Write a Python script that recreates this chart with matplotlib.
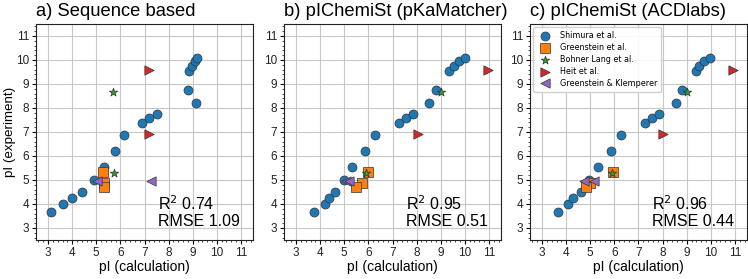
import numpy as np
import matplotlib
matplotlib.use("Agg")
import matplotlib.pyplot as plt
from matplotlib.ticker import MultipleLocator

plt.rcParams['font.family'] = ['Liberation Sans', 'DejaVu Sans']

# experimental pI values (same for every panel)
shimura_exp = [3.65, 4.0, 4.24, 4.51, 5.0, 5.54, 6.19, 6.88, 7.37, 7.57, 7.75,
               8.2, 8.75, 9.55, 9.74, 9.94, 10.1]
greenstein_exp = [5.32, 4.87, 4.7]
bohner_exp = [8.65, 5.3]
heit_exp = [9.6, 6.9]
gk_exp = [4.94, 4.94]

# calculated pI values per method
shimura_calc = {
    'a': [3.14, 3.62, 4.0, 4.4, 4.9, 5.34, 5.79, 6.16, 6.9, 7.2, 7.5,
          9.12, 8.8, 8.86, 8.97, 9.08, 9.18],
    'b': [3.74, 4.19, 4.37, 4.62, 4.97, 5.33, 5.85, 6.27, 7.28, 7.55, 7.83,
          8.5, 8.8, 9.36, 9.53, 9.75, 10.0],
    'c': [3.65, 4.08, 4.29, 4.6, 4.94, 5.33, 5.85, 6.29, 7.28, 7.54, 7.83,
          8.55, 8.8, 9.38, 9.51, 9.73, 9.96],
}
greenstein_calc = {'a': [5.28, 5.3, 5.3], 'b': [6.0, 5.73, 5.47], 'c': [5.94, 5.0, 4.82]}
bohner_calc = {'a': [5.7, 5.72], 'b': [9.0, 5.9], 'c': [9.0, 5.92]}
heit_calc = {'a': [7.2, 7.2], 'b': [10.96, 8.04], 'c': [10.94, 8.0]}
gk_calc = {'a': [5.05, 7.25], 'b': [5.07, 5.18], 'c': [4.76, 5.14]}

panels = ['a', 'b', 'c']
titles = ['a) Sequence based', 'b) pIChemiSt (pKaMatcher)', 'c) pIChemiSt (ACDlabs)']
r2 = [0.74, 0.95, 0.96]
rmse = [1.09, 0.51, 0.44]
ticks = list(range(3, 12))

series = [
    ('Shimura et al.', shimura_calc, shimura_exp, 'o', '#1f77b4'),
    ('Greenstein et al.', greenstein_calc, greenstein_exp, 's', '#ff7f0e'),
    ('Bohner Lang et al.', bohner_calc, bohner_exp, '*', '#2ca02c'),
    ('Heit et al.', heit_calc, heit_exp, '>', '#d62728'),
    ('Greenstein & Klemperer', gk_calc, gk_exp, '<', '#9467bd'),
]
sizes = {'o': 42, 's': 42, '*': 40, '>': 45, '<': 45}

fig = plt.figure(figsize=(7.48, 2.79), dpi=100)
lefts = [36 / 748, 284 / 748, 530 / 748]
w = 217 / 748
bottom = 39 / 279
h = 216 / 279

for i, p in enumerate(panels):
    ax = fig.add_axes([lefts[i], bottom, w, h])
    for label, calc, exp, m, c in series:
        ax.scatter(calc[p], exp, marker=m, s=sizes[m], color=c,
                   edgecolor='#333333', linewidth=0.5, label=label, zorder=3)
    ax.set_xlim(2.5, 11.5)
    ax.set_ylim(2.5, 11.5)
    ax.set_xticks(ticks)
    ax.set_yticks(ticks)
    ax.xaxis.set_minor_locator(MultipleLocator(0.2))
    ax.yaxis.set_minor_locator(MultipleLocator(0.2))
    ax.tick_params(which='major', labelsize=8.5, length=3, width=0.8, pad=2,
                   labelcolor='#222222')
    ax.tick_params(which='minor', length=1.5, width=0.5)
    ax.grid(True, which='major', color='#c8c8c8', linewidth=0.8, zorder=0)
    ax.set_axisbelow(True)
    for s in ax.spines.values():
        s.set_color('#222222')
        s.set_linewidth(0.8)
    ax.set_title(titles[i], loc='left', fontsize=13.2, pad=6)
    ax.set_xlabel('pI (calculation)', fontsize=10, labelpad=1)
    if i == 0:
        ax.set_ylabel('pI (experiment)', fontsize=9.6)
        ax.yaxis.set_label_coords(-0.092, 0.5)
    ax.text(0.56, 0.05, f'R$^2$ {r2[i]:.2f}\nRMSE {rmse[i]:.2f}',
            transform=ax.transAxes, fontsize=11.5, ha='left', va='bottom',
            linespacing=1.1)
    if i == 2:
        ax.legend(loc='upper left', prop={'family': 'DejaVu Sans', 'size': 5.8},
                  labelspacing=0.35, borderpad=0.5, handletextpad=0.8,
                  borderaxespad=0.4, framealpha=0.9)

fig.savefig('out.png', dpi=100)
